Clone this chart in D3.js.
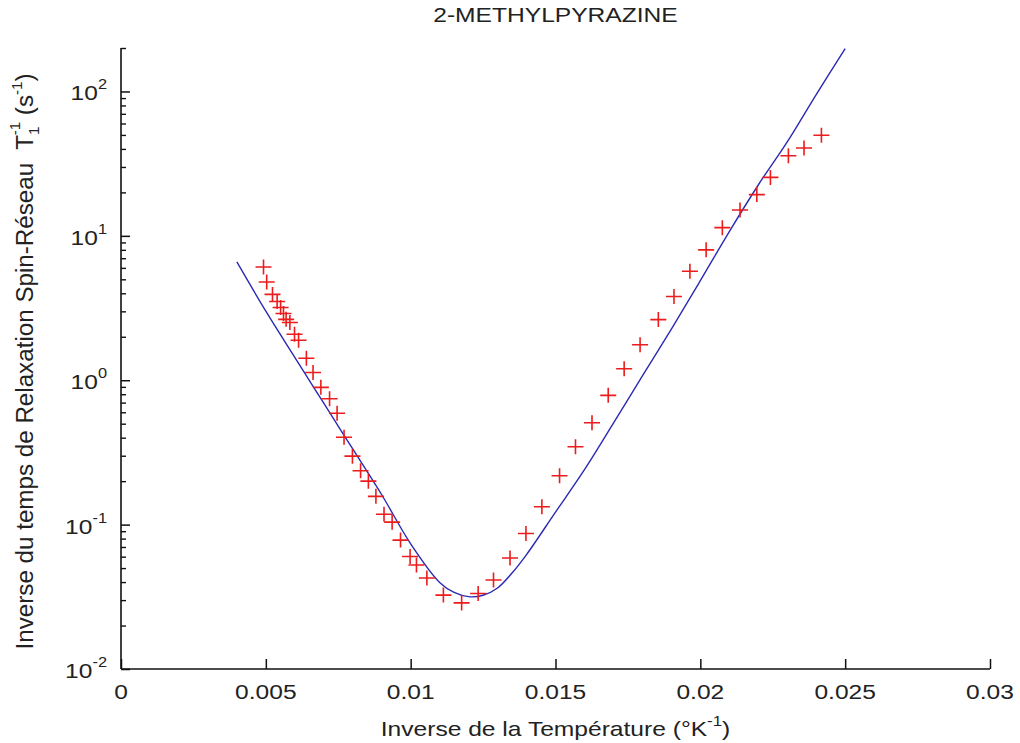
<!DOCTYPE html>
<html>
<head>
<meta charset="utf-8">
<script src="https://cdn.jsdelivr.net/npm/d3@7"></script>
<style>
  html, body { margin: 0; padding: 0; background: #fff; }
  svg { display: block; }
  text { font-family: "Liberation Sans", Arial, sans-serif; fill: #222; }
</style>
</head>
<body>
<svg id="chart" width="1020" height="743"></svg>
<script>
// ---- Data ----
const title = "2-METHYLPYRAZINE";

// Measured points (red +): inverse temperature (1/K) and relaxation rate (1/s)
const measX = [0.00492, 0.00503, 0.00523, 0.00539, 0.00551, 0.00561, 0.00570, 0.00583, 0.00599, 0.00613,
               0.00640, 0.00663, 0.00690, 0.00720, 0.00746, 0.00770, 0.00799, 0.00827, 0.00854, 0.00880,
               0.00908, 0.00936, 0.00965, 0.00998, 0.01020, 0.01056, 0.01113, 0.01176, 0.01233, 0.01286,
               0.01343, 0.01398, 0.01453, 0.01514, 0.01569, 0.01626, 0.01682, 0.01737, 0.01792, 0.01855,
               0.01909, 0.01964, 0.02020, 0.02076, 0.02137, 0.02195, 0.02242, 0.02304, 0.02358, 0.02418];
const measY = [6.08, 4.79, 3.93, 3.51, 3.19, 2.90, 2.64, 2.51, 2.08, 1.89,
               1.42, 1.13, 0.893, 0.744, 0.590, 0.403, 0.298, 0.236, 0.200, 0.157,
               0.118, 0.104, 0.0781, 0.0601, 0.0525, 0.0427, 0.0325, 0.0287, 0.0333, 0.0413,
               0.0587, 0.0867, 0.133, 0.218, 0.346, 0.508, 0.786, 1.20, 1.76, 2.63,
               3.80, 5.69, 8.00, 11.4, 15.1, 19.3, 25.4, 35.9, 40.6, 49.8];

// Model curve (blue line)
const fitX = [0.004, 0.005, 0.006, 0.007, 0.008, 0.009, 0.010, 0.011, 0.0115, 0.012, 0.0125, 0.013,
              0.0135, 0.014, 0.015, 0.016, 0.017, 0.018, 0.019, 0.020, 0.021, 0.022, 0.023, 0.024, 0.025];
const fitY = [6.6, 3.01, 1.44, 0.693, 0.334, 0.161, 0.0736, 0.0398, 0.0339, 0.0317, 0.0324, 0.0364,
              0.0462, 0.0620, 0.122, 0.240, 0.504, 1.07, 2.26, 4.89, 10.7, 22.5, 44.7, 95.2, 198];

const xTicks = [0, 0.005, 0.01, 0.015, 0.02, 0.025, 0.03];
const xTickLabels = ["0", "0.005", "0.01", "0.015", "0.02", "0.025", "0.03"];
const yTicks = [0.01, 0.1, 1, 10, 100];
const yTickExps = ["-2", "-1", "0", "1", "2"];

// ---- Layout ----
const svg = d3.select("#chart");
const pLeft = 121, pRight = 990, pTop = 48, pBottom = 669;
const SX = 1.17; // horizontal stretch of the reference text

const x = d3.scaleLinear().domain([0, 0.03]).range([pLeft, pRight]);
const y = d3.scaleLog().domain([0.01, 200]).range([pBottom, pTop]);

// Axes (MATLAB style, ticks pointing inward)
const xAxis = d3.axisTop(x).tickValues(xTicks).tickSize(10).tickFormat("");
svg.append("g").attr("transform", `translate(0,${pBottom})`).call(xAxis)
  .call(g => g.select(".domain").attr("stroke", "#111").attr("stroke-width", 1.6).attr("d", `M${pLeft},0H${pRight}`))
  .call(g => g.selectAll(".tick line").attr("stroke", "#111").attr("stroke-width", 1.5));

// y major + minor ticks
const minor = [];
for (let e = -2; e <= 2; e++) {
  for (let m = 2; m <= 9; m++) {
    const v = m * Math.pow(10, e);
    if (v <= 200) minor.push(v);
  }
}
const yAxisMinor = d3.axisRight(y).tickValues(minor).tickSize(5).tickFormat("");
svg.append("g").attr("transform", `translate(${pLeft},0)`).call(yAxisMinor)
  .call(g => g.select(".domain").remove())
  .call(g => g.selectAll(".tick line").attr("stroke", "#111").attr("stroke-width", 1.4));
const yAxis = d3.axisRight(y).tickValues(yTicks).tickSize(9).tickFormat("");
svg.append("g").attr("transform", `translate(${pLeft},0)`).call(yAxis)
  .call(g => g.select(".domain").attr("stroke", "#111").attr("stroke-width", 1.6).attr("d", `M0,${pTop}V${pBottom}`))
  .call(g => g.selectAll(".tick line").attr("stroke", "#111").attr("stroke-width", 1.5));

// x tick labels
xTicks.forEach((v, i) => {
  svg.append("text")
    .attr("transform", `translate(${x(v)},${pBottom + 30}) scale(${SX},1)`)
    .attr("text-anchor", "middle")
    .attr("font-size", 21)
    .text(xTickLabels[i]);
});

// y tick labels: 10^n
yTicks.forEach((v, i) => {
  const t = svg.append("text")
    .attr("transform", `translate(${pLeft - 14},${y(v) + 9}) scale(${SX},1)`)
    .attr("text-anchor", "end")
    .attr("font-size", 21);
  t.append("tspan").text("10");
  t.append("tspan").attr("font-size", 14).attr("dy", -11).text(yTickExps[i]);
});

// Title
svg.append("text")
  .attr("transform", `translate(${(pLeft + pRight) / 2},${22}) scale(1.2,1)`)
  .attr("text-anchor", "middle")
  .attr("font-size", 20.5)
  .text(title);

// X label
const xl = svg.append("text")
  .attr("transform", `translate(${(pLeft + pRight) / 2},${736}) scale(1.2,1)`)
  .attr("text-anchor", "middle")
  .attr("font-size", 20.5);
xl.append("tspan").text("Inverse de la Température (°K");
xl.append("tspan").attr("font-size", 14).attr("dy", -10).text("-1");
xl.append("tspan").attr("dy", 10).text(")");

// Y label
const yl = svg.append("text")
  .attr("transform", `translate(33,${(75 + 648) / 2}) scale(1.1,1.075) rotate(-90)`)
  .attr("text-anchor", "middle")
  .attr("font-size", 22.5)
  .attr("xml:space", "preserve");
yl.append("tspan").text("Inverse du temps de Relaxation Spin-Réseau  T");
yl.append("tspan").attr("font-size", 14).attr("dy", 5).text("1");
yl.append("tspan").attr("font-size", 14).attr("dx", -8).attr("dy", -17).text("-1");
yl.append("tspan").attr("dy", 12).text(" (s");
yl.append("tspan").attr("font-size", 14).attr("dy", -10).text("-1");
yl.append("tspan").attr("dy", 10).text(")");

// Fit line
const fit = fitX.map((v, i) => [v, fitY[i]]);
svg.append("path")
  .datum(fit)
  .attr("fill", "none")
  .attr("stroke", "#2a2ab4")
  .attr("stroke-width", 1.4)
  .attr("d", d3.line().x(d => x(d[0])).y(d => y(d[1])).curve(d3.curveCatmullRom));

// Measured points as "+"
const meas = measX.map((v, i) => [v, measY[i]]);
svg.append("g").selectAll("path")
  .data(meas)
  .join("path")
  .attr("transform", d => `translate(${x(d[0])},${y(d[1])})`)
  .attr("d", "M-8,0H8M0,-7.5V7.5")
  .attr("stroke", "#ec1c1c")
  .attr("stroke-width", 1.6)
  .attr("fill", "none");
</script>
</body>
</html>
